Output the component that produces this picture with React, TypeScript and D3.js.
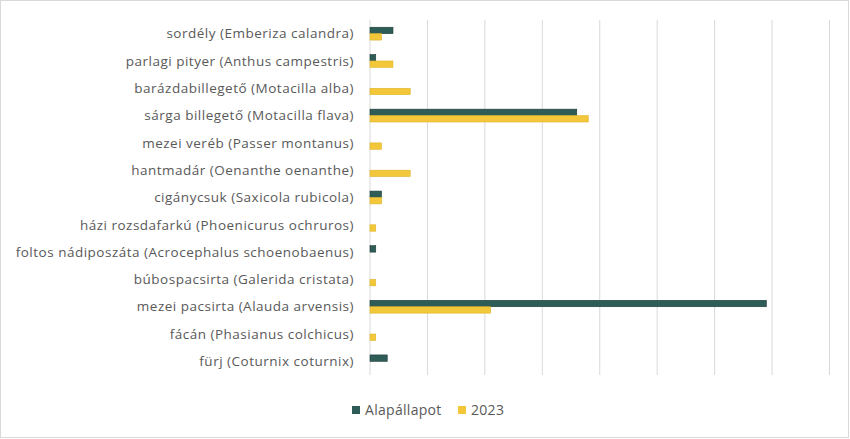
import React from "react";
import * as d3 from "d3";

const categories = [
  "sordély (Emberiza calandra)",
  "parlagi pityer (Anthus campestris)",
  "barázdabillegető (Motacilla alba)",
  "sárga billegető (Motacilla flava)",
  "mezei veréb (Passer montanus)",
  "hantmadár (Oenanthe oenanthe)",
  "cigánycsuk (Saxicola rubicola)",
  "házi rozsdafarkú (Phoenicurus ochruros)",
  "foltos nádiposzáta (Acrocephalus schoenobaenus)",
  "búbospacsirta (Galerida cristata)",
  "mezei pacsirta (Alauda arvensis)",
  "fácán (Phasianus colchicus)",
  "fürj (Coturnix coturnix)",
];
const alapallapot = [4, 1, 0, 36, 0, 0, 2, 0, 1, 0, 69, 0, 3];
const ev2023 = [2, 4, 7, 38, 2, 7, 2, 1, 0, 1, 21, 1, 0];
const seriesNames = ["Alapállapot", "2023"];
const xTicks = [0, 10, 20, 30, 40, 50, 60, 70, 80];

const W = 850;
const H = 439;
const colors = ["#2e5c57", "#f2c73a"];
const strokes = ["#1d3c39", "#e0b52a"];
const font = "'Open Sans', sans-serif";

export default function App() {
  const x = d3.scaleLinear().domain([0, 80]).range([370, 829.5]);
  const y = d3
    .scaleBand<string>()
    .domain(categories)
    .range([20, 375])
    .paddingInner(0.53)
    .paddingOuter(0.265);
  const sub = d3
    .scaleBand<string>()
    .domain(seriesNames)
    .range([0, y.bandwidth()]);
  const series = [alapallapot, ev2023];

  return (
    <svg
      width={W}
      height={H}
      style={{ position: "absolute", left: 0, top: 0, background: "#fff" }}
    >
      <rect x={0.5} y={0.5} width={W - 2} height={H - 2} fill="#fff" stroke="#d9d9d9" />
      {xTicks.map((t) => (
        <line
          key={t}
          x1={x(t)}
          x2={x(t)}
          y1={20}
          y2={375}
          stroke="#d9d9d9"
          strokeWidth={1}
        />
      ))}
      {series.map((vals, si) =>
        vals.map((v, i) =>
          v > 0 ? (
            <rect
              key={si + "-" + i}
              x={x(0)}
              y={(y(categories[i]) as number) + (sub(seriesNames[si]) as number)}
              width={x(v) - x(0)}
              height={sub.bandwidth()}
              fill={colors[si]}
              stroke={strokes[si]}
              strokeWidth={0.6}
            />
          ) : null
        )
      )}
      <g fontFamily={font} fontSize={13.5} letterSpacing={0.5} fill="#595959">
        {categories.map((c) => (
          <text
            key={c}
            x={354}
            y={(y(c) as number) + y.bandwidth() / 2}
            dy="0.35em"
            textAnchor="end"
          >
            {c}
          </text>
        ))}
      </g>
      <g fontFamily={font} fontSize={14} letterSpacing={0.3} fill="#595959">
        <rect x={352} y={406} width={8} height={8} fill={colors[0]} />
        <text x={365} y={410} dy="0.35em">
          {seriesNames[0]}
        </text>
        <rect x={458} y={406} width={8} height={8} fill={colors[1]} />
        <text x={471} y={410} dy="0.35em">
          {seriesNames[1]}
        </text>
      </g>
    </svg>
  );
}
